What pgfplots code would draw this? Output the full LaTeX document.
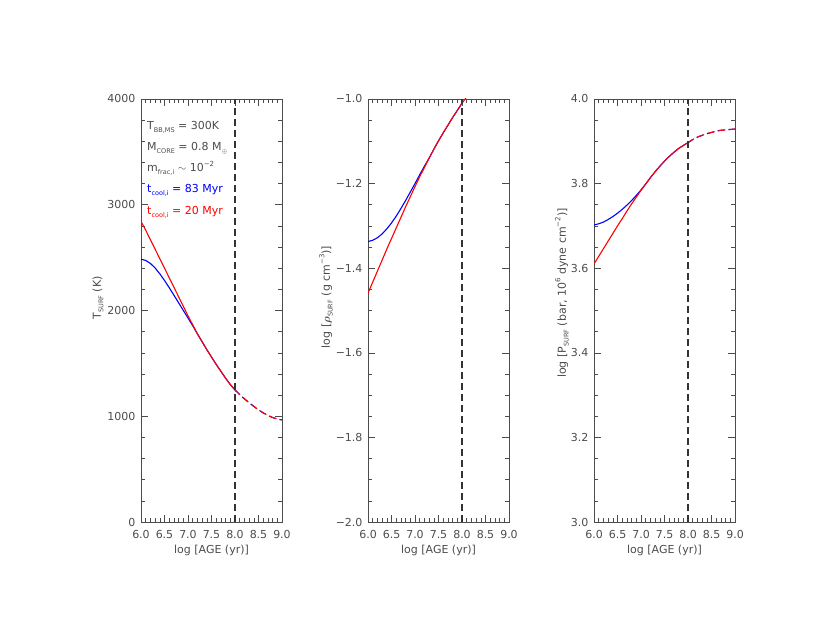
\documentclass[border=0pt]{standalone}
\usepackage{fontspec}
\setmainfont{DejaVu Sans}
\usepackage{amsmath}
\usepackage{pgfplots}
\pgfplotsset{compat=1.18}
\definecolor{idlblue}{RGB}{0,0,255}
\definecolor{idlred}{RGB}{255,0,0}
\definecolor{ink}{gray}{0.3}

\newcommand{\sub}[1]{\raisebox{-0.45ex}{\fontsize{6.5}{6.5}\selectfont #1}}
\newcommand{\super}[1]{\raisebox{0.9ex}{\fontsize{7}{7}\selectfont #1}}
\newcommand{\lab}{\fontsize{11}{13}\selectfont}

\pgfplotsset{
  panel/.style={
    scale only axis, width=141pt, height=423pt, anchor=south west,
    xmin=6, xmax=9, xtick={6,6.5,...,9}, minor x tick num=4,
    tick align=inside, major tick length=7pt, minor tick length=4pt,
    axis line style={ink, line width=0.5pt},
    every tick/.style={ink, line width=0.5pt},
    tick label style={font=\lab, text=ink},
    /pgf/number format/assume math mode=true,
    xticklabel={\pgfmathprintnumber[fixed,fixed zerofill,precision=1]{\tick}},
    xticklabel style={yshift=-5pt},
    yticklabel style={xshift=-2pt},
    scaled ticks=false, clip=true,
  },
  cur/.style={line width=1.1pt},
  dsh/.style={line width=1.1pt, dash pattern=on 7pt off 4pt},
  vline/.style={black!80, line width=1.1pt, dash pattern=on 7pt off 4pt},
}

\begin{document}
\begin{tikzpicture}
\path[use as bounding box] (0,0) rectangle (830pt,642pt);

% ---- panel 1: surface temperature
\begin{axis}[panel, at={(141pt,120pt)},
  ymin=0, ymax=4000, ytick={0,1000,...,4000}, minor y tick num=4,
  yticklabel={\pgfmathprintnumber[fixed,precision=0,1000 sep={}]{\tick}}]
\addplot[cur, idlblue] coordinates {
  (6.0,2485)(6.1,2473)(6.2,2445)(6.3,2402)(6.4,2347)(6.5,2284)(6.6,2216)
  (6.7,2145)(6.8,2073)(6.9,2001)(7.0,1929)(7.1,1856)(7.2,1779)(7.3,1705)
  (7.4,1630)(7.5,1560)(7.6,1490)(7.7,1425)(7.8,1360)(7.9,1300)(8.0,1248)
};
\addplot[cur, idlred] coordinates {
  (6.0,2842)(6.1,2760)(6.2,2670)(6.3,2580)(6.4,2490)(6.5,2400)(6.6,2310)
  (6.7,2220)(6.8,2130)(6.9,2040)(7.0,1950)(7.1,1865)(7.2,1780)(7.3,1705)
  (7.4,1630)(7.5,1560)(7.6,1490)(7.7,1425)(7.8,1360)(7.9,1300)(8.0,1248)
};
\addplot[dsh, idlblue, dash phase=1pt] coordinates {
  (8.0,1248)(8.1,1205)(8.2,1165)(8.3,1128)(8.4,1093)(8.5,1060)(8.6,1032)
  (8.7,1008)(8.8,988)(8.9,974)(9.0,965)
};
\addplot[dsh, idlred] coordinates {
  (8.0,1248)(8.1,1205)(8.2,1165)(8.3,1128)(8.4,1093)(8.5,1060)(8.6,1032)
  (8.7,1008)(8.8,988)(8.9,974)(9.0,965)
};
\addplot[vline] coordinates {(8,0)(8,4000)};
\end{axis}

% ---- panel 2: surface density
\begin{axis}[panel, at={(368pt,120pt)},
  ymin=-2, ymax=-1, ytick={-2,-1.8,-1.6,-1.4,-1.2,-1},
  yticklabels={−2.0,−1.8,−1.6,−1.4,−1.2,−1.0}, minor y tick num=3]
\addplot[cur, idlblue] coordinates {
  (6.0,-1.337)(6.1,-1.334)(6.2,-1.328)(6.3,-1.319)(6.4,-1.307)(6.5,-1.293)
  (6.6,-1.277)(6.7,-1.259)(6.8,-1.240)(6.9,-1.220)(7.0,-1.200)(7.1,-1.179)
  (7.2,-1.159)(7.3,-1.140)(7.4,-1.119)(7.5,-1.099)(7.6,-1.080)(7.7,-1.062)
  (7.8,-1.044)(7.9,-1.027)(8.0,-1.010)
};
\addplot[cur, idlred] coordinates {
  (6.0,-1.459)(6.1,-1.433)(6.2,-1.407)(6.3,-1.381)(6.4,-1.355)(6.5,-1.330)
  (6.6,-1.305)(6.7,-1.280)(6.8,-1.255)(6.9,-1.231)(7.0,-1.207)(7.1,-1.184)
  (7.2,-1.162)(7.3,-1.140)(7.4,-1.119)(7.5,-1.099)(7.6,-1.080)(7.7,-1.062)
  (7.8,-1.044)(7.9,-1.027)(8.0,-1.010)
};
\addplot[dsh, idlred] coordinates {
  (8.0,-1.010)(8.2,-0.980)(8.5,-0.945)(9.0,-0.900)
};
\addplot[vline] coordinates {(8,-2)(8,-1)};
\end{axis}

% ---- panel 3: surface pressure
\begin{axis}[panel, at={(594pt,120pt)},
  ymin=3, ymax=4, ytick={3,3.2,...,4}, minor y tick num=3,
  yticklabel={\pgfmathprintnumber[fixed,fixed zerofill,precision=1]{\tick}}]
\addplot[cur, idlblue] coordinates {
  (6.0,3.702)(6.1,3.705)(6.2,3.709)(6.3,3.715)(6.4,3.722)(6.5,3.730)
  (6.6,3.739)(6.7,3.749)(6.8,3.760)(6.9,3.772)(7.0,3.785)(7.1,3.799)
  (7.2,3.814)(7.3,3.828)(7.4,3.841)(7.5,3.853)(7.6,3.864)(7.7,3.874)
  (7.8,3.883)(7.9,3.890)(8.0,3.897)
};
\addplot[cur, idlred] coordinates {
  (6.0,3.610)(6.1,3.628)(6.2,3.646)(6.3,3.664)(6.4,3.682)(6.5,3.700)
  (6.6,3.717)(6.7,3.735)(6.8,3.752)(6.9,3.768)(7.0,3.784)(7.1,3.799)
  (7.2,3.814)(7.3,3.828)(7.4,3.841)(7.5,3.853)(7.6,3.864)(7.7,3.874)
  (7.8,3.883)(7.9,3.890)(8.0,3.897)
};
\addplot[dsh, idlblue, dash phase=1pt] coordinates {
  (8.0,3.897)(8.1,3.904)(8.2,3.910)(8.3,3.914)(8.4,3.918)(8.5,3.921)
  (8.6,3.924)(8.7,3.926)(8.8,3.927)(8.9,3.928)(9.0,3.929)
};
\addplot[dsh, idlred] coordinates {
  (8.0,3.897)(8.1,3.904)(8.2,3.910)(8.3,3.914)(8.4,3.918)(8.5,3.921)
  (8.6,3.924)(8.7,3.926)(8.8,3.927)(8.9,3.928)(9.0,3.929)
};
\addplot[vline] coordinates {(8,3)(8,4)};
\end{axis}

% ---- axis titles
\begin{scope}[every node/.style={text=ink, font=\lab, inner sep=0pt}]
\node at (211.5pt,92pt) {log [AGE (yr)]};
\node at (438.5pt,92pt) {log [AGE (yr)]};
\node at (664.5pt,92pt) {log [AGE (yr)]};
\node[rotate=90] at (98pt,344pt) {T\sub{SURF} (K)};
\node[rotate=90] at (326pt,345pt) {log [$\boldsymbol{\rho}$\sub{SURF} (g cm\super{−3})]};
\node[rotate=90] at (562pt,349pt) {log [P\sub{SURF} (bar, 10\super{6} dyne cm\super{−2})]};
\end{scope}

% ---- annotations in panel 1
\begin{scope}[every node/.style={anchor=west, font=\lab, inner sep=0pt}]
\node[text=ink] at (147pt,515pt) {T\sub{BB,MS} = 300K};
\node[text=ink] at (147pt,494pt) {M\sub{CORE} = 0.8 M\sub{$\oplus$}};
\node[text=ink] at (147pt,474pt) {m\sub{frac,i} $\sim$ 10\super{−2}};
\node[text=idlblue] at (147pt,452pt) {t\sub{cool,i} = 83 Myr};
\node[text=idlred] at (147pt,430pt) {t\sub{cool,i} = 20 Myr};
\end{scope}
\end{tikzpicture}
\end{document}
